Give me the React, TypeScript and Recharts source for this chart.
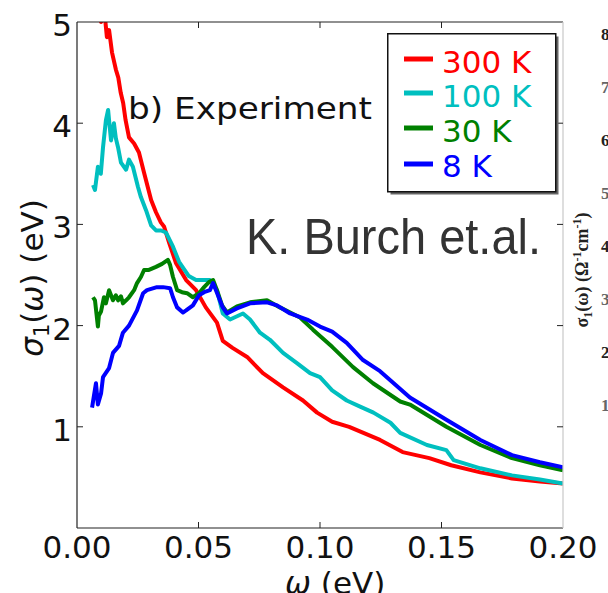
import React from 'react';
import { LineChart, Line, XAxis, YAxis, Legend } from 'recharts';

const xTicks = [0, 0.05, 0.1, 0.15, 0.2];
const yTicks = [1, 2, 3, 4, 5];
const rightPanelTicks = ['8', '7', '6', '5', '4', '3', '2', '1'];

const seriesNames = ['300 K', '100 K', '30 K', '8 K'];
const seriesColors = ['#ff0000', '#00bfbf', '#008000', '#0000ff'];

const sigma300K: [number, number][] = [
  [0.0062, 5.35], [0.0074, 5.05], [0.0086, 5.25], [0.0099, 5.0], [0.0111, 5.15], [0.0123, 4.85],
  [0.0132, 4.92], [0.0144, 4.7], [0.016, 4.53], [0.017, 4.45], [0.018, 4.3], [0.019, 4.2],
  [0.02, 4.03], [0.0214, 3.86], [0.0235, 3.8], [0.0255, 3.71], [0.0276, 3.51], [0.0305, 3.24],
  [0.0325, 3.12], [0.0345, 3.02], [0.0358, 2.98], [0.0379, 2.82], [0.0407, 2.62], [0.0449, 2.45],
  [0.049, 2.35], [0.053, 2.18], [0.0576, 2.03], [0.06, 1.85], [0.064, 1.78], [0.07, 1.69],
  [0.0765, 1.53], [0.0848, 1.39], [0.093, 1.26], [0.0988, 1.14], [0.105, 1.05], [0.112, 1.0],
  [0.1247, 0.87], [0.134, 0.75], [0.145, 0.69], [0.154, 0.62], [0.166, 0.55], [0.179, 0.49],
  [0.1905, 0.46], [0.2, 0.44],
];

const sigma100K: [number, number][] = [
  [0.0066, 3.39], [0.0074, 3.34], [0.0086, 3.57], [0.0098, 3.5], [0.0107, 3.76], [0.0119, 4.03],
  [0.0128, 4.13], [0.0132, 4.03], [0.014, 3.83], [0.0152, 4.0], [0.016, 3.85], [0.0169, 3.76],
  [0.0181, 3.61], [0.0202, 3.54], [0.0214, 3.64], [0.023, 3.57], [0.0251, 3.37], [0.0263, 3.27],
  [0.0284, 3.14], [0.0305, 2.99], [0.0325, 2.94], [0.0346, 2.94], [0.0366, 2.92], [0.0395, 2.78],
  [0.042, 2.63], [0.046, 2.49], [0.049, 2.45], [0.0523, 2.45], [0.0547, 2.45], [0.0576, 2.35],
  [0.06, 2.12], [0.063, 2.06], [0.0683, 2.12], [0.0712, 2.06], [0.0753, 1.93], [0.0794, 1.86],
  [0.0848, 1.73], [0.0905, 1.63], [0.0959, 1.53], [0.1, 1.49], [0.105, 1.36], [0.111, 1.26],
  [0.1165, 1.2], [0.122, 1.14], [0.129, 1.04], [0.133, 0.94], [0.144, 0.82], [0.152, 0.77],
  [0.155, 0.67], [0.166, 0.59], [0.179, 0.52], [0.1905, 0.48], [0.2, 0.44],
];

const sigma30K: [number, number][] = [
  [0.0066, 2.28], [0.0074, 2.25], [0.0086, 1.99], [0.009, 2.1], [0.0099, 2.14], [0.0111, 2.28],
  [0.0119, 2.22], [0.0132, 2.35], [0.0148, 2.25], [0.016, 2.3], [0.0169, 2.25], [0.0181, 2.29],
  [0.0189, 2.22], [0.0202, 2.25], [0.0214, 2.28], [0.0235, 2.35], [0.0247, 2.42], [0.0263, 2.48],
  [0.0276, 2.55], [0.0296, 2.55], [0.0325, 2.58], [0.035, 2.61], [0.0374, 2.65], [0.0383, 2.6],
  [0.0395, 2.48], [0.0412, 2.35], [0.0432, 2.33], [0.0453, 2.32], [0.0477, 2.28], [0.0502, 2.32],
  [0.0523, 2.38], [0.0543, 2.43], [0.056, 2.45], [0.0576, 2.35], [0.0597, 2.2], [0.0617, 2.13],
  [0.0658, 2.19], [0.0712, 2.23], [0.0782, 2.25], [0.0835, 2.18], [0.0918, 2.08], [0.0971, 1.96],
  [0.105, 1.79], [0.1136, 1.59], [0.1218, 1.43], [0.133, 1.25], [0.137, 1.22], [0.152, 1.0],
  [0.166, 0.82], [0.179, 0.69], [0.1905, 0.62], [0.2, 0.57],
];

const sigma8K: [number, number][] = [
  [0.0062, 1.19], [0.007, 1.31], [0.0078, 1.43], [0.0086, 1.22], [0.0099, 1.33], [0.0107, 1.49],
  [0.0132, 1.58], [0.0148, 1.73], [0.0173, 1.8], [0.0189, 1.93], [0.0214, 2.0], [0.0247, 2.15],
  [0.0272, 2.32], [0.0288, 2.35], [0.0329, 2.38], [0.0354, 2.38], [0.0383, 2.37], [0.0395, 2.28],
  [0.0412, 2.18], [0.0436, 2.13], [0.0449, 2.15], [0.0477, 2.2], [0.0502, 2.3], [0.0523, 2.33],
  [0.0547, 2.35], [0.056, 2.42], [0.058, 2.3], [0.06, 2.18], [0.0617, 2.12], [0.0658, 2.17],
  [0.0712, 2.22], [0.0782, 2.23], [0.0823, 2.2], [0.0877, 2.12], [0.0947, 2.06], [0.1, 1.99],
  [0.105, 1.94], [0.111, 1.83], [0.1177, 1.66], [0.1247, 1.55], [0.137, 1.29], [0.152, 1.07],
  [0.166, 0.87], [0.179, 0.72], [0.1905, 0.65], [0.2, 0.6],
];

const seriesValues = [sigma300K, sigma100K, sigma30K, sigma8K];

const toPoints = (arr: [number, number][]) => arr.map(([x, y]) => ({ x, y }));

const W = 608;
const H = 593;
const SANS = '"DejaVu Sans", sans-serif';

const BottomTick = (props: any) => {
  const { x, y, payload } = props;
  const v = payload.value as number;
  return (
    <g>
      {v > 0 && v < 0.2 && <line x1={x} x2={x} y1={y} y2={y - 6} stroke="#222" strokeWidth={1} />}
      <text x={x} y={y + 30} textAnchor="middle" fontFamily={SANS} fontSize={31} fill="#111">
        {v.toFixed(2)}
      </text>
    </g>
  );
};

const TopTick = (props: any) => {
  const { x, y, payload } = props;
  const v = payload.value as number;
  if (!(v > 0 && v < 0.2)) return <g />;
  return <line x1={x} x2={x} y1={y} y2={y + 6} stroke="#222" strokeWidth={1} />;
};

const LeftTick = (props: any) => {
  const { x, y, payload } = props;
  const v = payload.value as number;
  return (
    <g>
      {v < 5 && <line x1={x} x2={x + 6} y1={y} y2={y} stroke="#222" strokeWidth={1} />}
      <text x={x - 5} y={y + 14} textAnchor="end" fontFamily={SANS} fontSize={31} fill="#111">
        {String(v)}
      </text>
    </g>
  );
};

const RightTick = (props: any) => {
  const { x, y, payload } = props;
  const v = payload.value as number;
  if (v >= 5) return <g />;
  return <line x1={x} x2={x - 6} y1={y} y2={y} stroke="#222" strokeWidth={1} />;
};

const renderLegend = (props: any) => {
  const raw = (props.payload || []) as any[];
  const payload = [...raw].sort(
    (a, b) => seriesNames.indexOf(String(a.value)) - seriesNames.indexOf(String(b.value))
  );
  const rowsMarker = [26, 60, 95, 131];
  const rowsText = [40, 74, 109, 144];
  return (
    <svg width={174} height={164} style={{ display: 'block' }}>
      <rect x={3.5} y={3.5} width={168} height={158} fill="#666" />
      <rect x={0.75} y={0.75} width={168} height={158} fill="#fff" stroke="#111" strokeWidth={1.5} />
      {payload.map((p: any, i: number) => (
        <g key={String(p.value)}>
          <line x1={17} x2={46} y1={rowsMarker[i]} y2={rowsMarker[i]} stroke={p.color} strokeWidth={5} />
          <text x={55} y={rowsText[i]} fontFamily={SANS} fontSize={31} fill={p.color}>
            {p.value}
          </text>
        </g>
      ))}
    </svg>
  );
};

export default function App() {
  return (
    <div style={{ position: 'absolute', left: 0, top: 0, width: W, height: H, background: '#fff', overflow: 'hidden' }}>
      <LineChart width={W} height={H} margin={{ top: 21, right: 44, bottom: 35, left: 37 }}>
        <XAxis
          xAxisId="b"
          type="number"
          dataKey="x"
          domain={[0, 0.2]}
          ticks={xTicks}
          allowDataOverflow
          orientation="bottom"
          height={30}
          tickSize={0}
          tickMargin={0}
          tickLine={false}
          axisLine={{ stroke: '#222', strokeWidth: 1.2 }}
          tick={BottomTick}
          interval={0}
        />
        <XAxis
          xAxisId="t"
          type="number"
          dataKey="x"
          domain={[0, 0.2]}
          ticks={xTicks}
          allowDataOverflow
          orientation="top"
          height={1}
          tickSize={0}
          tickMargin={0}
          tickLine={false}
          axisLine={{ stroke: '#222', strokeWidth: 1.2 }}
          tick={TopTick}
          interval={0}
        />
        <YAxis
          yAxisId="l"
          type="number"
          domain={[0, 5]}
          ticks={yTicks}
          allowDataOverflow
          width={40}
          tickSize={0}
          tickMargin={0}
          tickLine={false}
          axisLine={{ stroke: '#222', strokeWidth: 1.2 }}
          tick={LeftTick}
          interval={0}
        />
        <YAxis
          yAxisId="r"
          orientation="right"
          type="number"
          domain={[0, 5]}
          ticks={yTicks}
          allowDataOverflow
          width={1}
          tickSize={0}
          tickMargin={0}
          tickLine={false}
          axisLine={{ stroke: '#c8c8c8', strokeWidth: 1.2 }}
          tick={RightTick}
          interval={0}
        />
        <Legend
          layout="vertical"
          align="center"
          verticalAlign="middle"
          content={renderLegend}
          wrapperStyle={{ position: 'absolute', left: 387, top: 33, width: 174, height: 164, margin: 0 }}
        />
        {seriesValues.map((vals, i) => (
          <Line
            key={seriesNames[i]}
            xAxisId="b"
            yAxisId="l"
            data={toPoints(vals)}
            dataKey="y"
            name={seriesNames[i]}
            stroke={seriesColors[i]}
            strokeWidth={4}
            strokeLinejoin="round"
            dot={false}
            activeDot={false}
            isAnimationActive={false}
            type="linear"
          />
        ))}
      </LineChart>
      <svg
        width={W}
        height={H}
        style={{ position: 'absolute', left: 0, top: 0, pointerEvents: 'none' }}
      >
        <text x={128} y={119} fontFamily={SANS} fontSize={31} fill="#111" textLength={244} lengthAdjust="spacingAndGlyphs">
          b) Experiment
        </text>
        <text x={246} y={254} fontFamily='"Liberation Sans", Arial, sans-serif' fontSize={50} fill="#333" textLength={295} lengthAdjust="spacingAndGlyphs">
          K. Burch et.al.
        </text>
        <text
          x={43}
          y={278}
          textAnchor="middle"
          fontFamily={SANS}
          fontSize={31}
          fill="#111"
          transform="rotate(-90 43 278)"
        >
          <tspan fontStyle="italic">σ</tspan>
          <tspan fontSize={21} dy={6}>1</tspan>
          <tspan dy={-6}>(</tspan>
          <tspan fontStyle="italic">ω</tspan>
          <tspan>) (eV)</tspan>
        </text>
        <text x={285} y={594} fontFamily={SANS} fontSize={31} fill="#111">
          <tspan fontStyle="italic">ω</tspan>
          <tspan> (eV)</tspan>
        </text>
        <text
          x={588}
          y={270}
          textAnchor="middle"
          fontFamily='"Liberation Serif", "DejaVu Serif", serif'
          fontWeight="bold"
          fontSize={18}
          fill="#222"
          transform="rotate(-90 588 270)"
        >
          <tspan>σ</tspan>
          <tspan fontSize={12} dy={4}>1</tspan>
          <tspan dy={-4}>(ω) (Ω</tspan>
          <tspan fontSize={12} dy={-7}>-1</tspan>
          <tspan dy={7}>cm</tspan>
          <tspan fontSize={12} dy={-7}>-1</tspan>
          <tspan dy={7}>)</tspan>
        </text>
        {rightPanelTicks.map((t, i) => (
          <text
            key={t}
            x={601}
            y={40 + i * 53}
            fontFamily='"Liberation Serif", "DejaVu Serif", serif'
            fontWeight="bold"
            fontSize={17}
            fill={i % 2 === 0 ? '#222' : '#666'}
          >
            {t}
          </text>
        ))}
      </svg>
    </div>
  );
}
